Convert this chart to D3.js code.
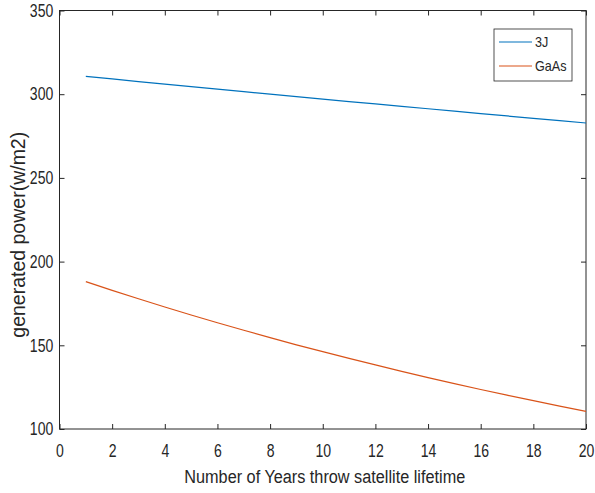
<!DOCTYPE html>
<html>
<head>
<meta charset="utf-8">
<script src="https://cdn.jsdelivr.net/npm/d3@7"></script>
<style>
  body { margin: 0; background: #fff; }
  text { fill: #262626; }
</style>
</head>
<body>
<div id="chart"></div>
<script>
var years = [1, 2, 3, 4, 5, 6, 7, 8, 9, 10, 11, 12, 13, 14, 15, 16, 17, 18, 19, 20];
var power_3j = [310.6, 309.1, 307.5, 306.0, 304.5, 303.0, 301.5, 300.0, 298.6, 297.1,
                295.6, 294.2, 292.7, 291.3, 289.9, 288.4, 287.0, 285.6, 284.2, 282.8];
var power_gaas = [188.0, 182.8, 177.8, 172.9, 168.1, 163.5, 159.0, 154.6, 150.3, 146.2,
                  142.2, 138.3, 134.4, 130.7, 127.1, 123.6, 120.2, 116.9, 113.7, 110.5];
var x_ticks = [0, 2, 4, 6, 8, 10, 12, 14, 16, 18, 20];
var y_ticks = [100, 150, 200, 250, 300, 350];
var series = [
  {name: '3J', values: power_3j, color: '#0072BD'},
  {name: 'GaAs', values: power_gaas, color: '#D95319'}
];

var width = 595, height = 493;
var plot_left = 59.5, plot_right = 586, plot_top = 10.5, plot_bottom = 429;
var font = '"Liberation Sans", Arial, sans-serif';
var narrow = 0.78; // the reference uses a condensed face

var svg = d3.select('#chart').append('svg')
    .attr('width', width)
    .attr('height', height);

var x = d3.scaleLinear().domain([0, 20]).range([plot_left, plot_right]);
var y = d3.scaleLinear().domain([100, 350]).range([plot_bottom, plot_top]);

// box
svg.append('rect')
    .attr('x', plot_left).attr('y', plot_top)
    .attr('width', plot_right - plot_left).attr('height', plot_bottom - plot_top)
    .attr('fill', 'none').attr('stroke', '#262626').attr('stroke-width', 1);

// axes
var xAxis = svg.append('g')
    .attr('transform', 'translate(0,' + plot_bottom + ')')
    .call(d3.axisBottom(x).tickValues(x_ticks).tickSizeInner(-5).tickSizeOuter(0).tickPadding(15));
var xTop = svg.append('g')
    .attr('transform', 'translate(0,' + plot_top + ')')
    .call(d3.axisTop(x).tickValues(x_ticks).tickSizeInner(-5).tickSizeOuter(0).tickFormat(''));
var yAxis = svg.append('g')
    .attr('transform', 'translate(' + plot_left + ',0)')
    .call(d3.axisLeft(y).tickValues(y_ticks).tickSizeInner(-5).tickSizeOuter(0).tickPadding(8));
var yRight = svg.append('g')
    .attr('transform', 'translate(' + plot_right + ',0)')
    .call(d3.axisRight(y).tickValues(y_ticks).tickSizeInner(-5).tickSizeOuter(0).tickFormat(''));

[xAxis, xTop, yAxis, yRight].forEach(function(a) {
  a.select('.domain').remove();
  a.selectAll('line').attr('stroke', '#262626');
  a.selectAll('text')
      .style('font-family', font)
      .style('font-size', '18px')
      .attr('fill', '#262626')
      .attr('transform', 'scale(' + narrow + ',1)');
});

// lines
var line = d3.line()
    .x(function(d, i) { return x(years[i]); })
    .y(function(d) { return y(d); });

series.forEach(function(s) {
  svg.append('path')
      .datum(s.values)
      .attr('d', line)
      .attr('fill', 'none')
      .attr('stroke', s.color)
      .attr('stroke-width', 1.2);
});

// axis labels
svg.append('text')
    .attr('transform', 'translate(' + ((plot_left + plot_right) / 2 + 2) + ',483) scale(0.856,1)')
    .attr('text-anchor', 'middle')
    .style('font-family', font)
    .style('font-size', '19px')
    .text('Number of Years throw satellite lifetime');

svg.append('text')
    .attr('transform', 'translate(25,' + ((plot_top + plot_bottom) / 2 + 15) + ') rotate(-90)')
    .attr('text-anchor', 'middle')
    .style('font-family', font)
    .style('font-size', '19.5px')
    .text('generated power(w/m2)');

// legend
var legend = svg.append('g').attr('transform', 'translate(494,29)');
legend.append('rect')
    .attr('width', 78).attr('height', 52)
    .attr('fill', '#fff').attr('stroke', '#262626').attr('stroke-width', 0.8);
series.forEach(function(s, i) {
  var ly = 13 + i * 24;
  legend.append('line')
      .attr('x1', 5).attr('x2', 38)
      .attr('y1', ly).attr('y2', ly)
      .attr('stroke', s.color).attr('stroke-width', 1.2);
  legend.append('text')
      .attr('transform', 'translate(41,' + (ly + 5) + ') scale(0.9,1)')
      .style('font-family', font)
      .style('font-size', '14px')
      .text(s.name);
});
</script>
</body>
</html>
